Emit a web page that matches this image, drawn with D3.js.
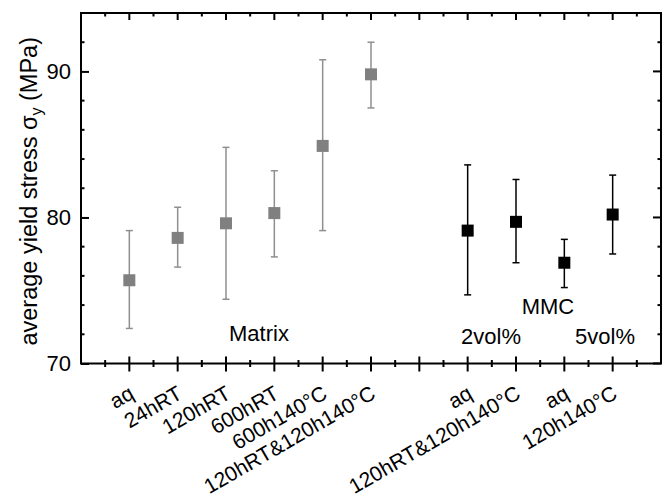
<!DOCTYPE html>
<html>
<head>
<meta charset="utf-8">
<script src="https://cdn.jsdelivr.net/npm/d3@7"></script>
<style>
  body { margin: 0; background: #fff; }
  text { font-family: "Liberation Sans", Arial, Helvetica, sans-serif; fill: #000; }
</style>
</head>
<body>
<div id="chart"></div>
<script>
// matrix samples (grey)
const matrixLabels = ["aq", "24hRT", "120hRT", "600hRT", "600h140°C", "120hRT&120h140°C"];
const matrixPos = [1, 2, 3, 4, 5, 6];
const matrixMean = [75.7, 78.6, 79.6, 80.3, 84.9, 89.8];
const matrixHi = [79.1, 80.7, 84.8, 83.2, 90.8, 92.0];
const matrixLo = [72.4, 76.6, 74.4, 77.3, 79.1, 87.5];

// MMC samples (black)
const mmcLabels = ["aq", "120hRT&120h140°C", "aq", "120h140°C"];
const mmcPos = [8, 9, 10, 11];
const mmcMean = [79.1, 79.7, 76.9, 80.2];
const mmcHi = [83.6, 82.6, 78.5, 82.9];
const mmcLo = [74.7, 76.9, 75.2, 77.5];

const yTicks = [70, 80, 90];

const width = 666, height = 501;
const fs = 22;

const svg = d3.select("#chart").append("svg")
  .attr("width", width)
  .attr("height", height);

const x = d3.scaleLinear().domain([0, 12]).range([81, 661]);
const y = d3.scaleLinear().domain([70, 94]).range([363.5, 13]);

const majorX = d3.range(1, 12);
const minorX = d3.range(0.5, 12, 1);
const minorY = d3.range(72, 94, 2).filter(v => v % 10 !== 0);

// frame
svg.append("rect")
  .attr("x", x(0)).attr("y", y(94))
  .attr("width", x(12) - x(0)).attr("height", y(70) - y(94))
  .attr("fill", "none").attr("stroke", "#000").attr("stroke-width", 2);

// bottom axis, ticks cross the line
const bottomAx = svg.append("g").attr("transform", `translate(0,${y(70)})`);
bottomAx.selectAll("line.maj").data(majorX).enter().append("line")
  .attr("x1", d => x(d)).attr("x2", d => x(d))
  .attr("y1", -7).attr("y2", 8)
  .attr("stroke", "#000").attr("stroke-width", 2);
bottomAx.selectAll("line.min").data(minorX).enter().append("line")
  .attr("x1", d => x(d)).attr("x2", d => x(d))
  .attr("y1", -3.5).attr("y2", 3.5)
  .attr("stroke", "#000").attr("stroke-width", 2);

// top axis, ticks inward
const topAx = svg.append("g").attr("transform", `translate(0,${y(94)})`);
topAx.selectAll("line.maj").data(majorX).enter().append("line")
  .attr("x1", d => x(d)).attr("x2", d => x(d))
  .attr("y1", 0).attr("y2", 7)
  .attr("stroke", "#000").attr("stroke-width", 2);
topAx.selectAll("line.min").data(minorX).enter().append("line")
  .attr("x1", d => x(d)).attr("x2", d => x(d))
  .attr("y1", 0).attr("y2", 3.5)
  .attr("stroke", "#000").attr("stroke-width", 2);

// left axis
const leftAx = svg.append("g").attr("transform", `translate(${x(0)},0)`)
  .call(d3.axisLeft(y).tickValues(yTicks).tickSize(-8).tickPadding(10));
leftAx.select(".domain").remove();
leftAx.selectAll(".tick line").attr("stroke-width", 2);
leftAx.selectAll(".tick text").attr("font-size", fs)
  .style("font-family", "'Liberation Sans', Arial, sans-serif");
leftAx.selectAll("line.min").data(minorY).enter().append("line")
  .attr("x1", 0).attr("x2", 3.5)
  .attr("y1", d => y(d)).attr("y2", d => y(d))
  .attr("stroke", "#000").attr("stroke-width", 2);

// right axis
const rightAx = svg.append("g").attr("transform", `translate(${x(12)},0)`);
rightAx.selectAll("line.maj").data(yTicks).enter().append("line")
  .attr("x1", -8).attr("x2", 0)
  .attr("y1", d => y(d)).attr("y2", d => y(d))
  .attr("stroke", "#000").attr("stroke-width", 2);
rightAx.selectAll("line.min").data(minorY).enter().append("line")
  .attr("x1", -3.5).attr("x2", 0)
  .attr("y1", d => y(d)).attr("y2", d => y(d))
  .attr("stroke", "#000").attr("stroke-width", 2);

// rotated category labels
const allLabels = matrixLabels.map((l, i) => ({ label: l, pos: matrixPos[i] }))
  .concat(mmcLabels.map((l, i) => ({ label: l, pos: mmcPos[i] })));
svg.selectAll("text.cat").data(allLabels).enter().append("text")
  .attr("class", "cat")
  .attr("text-anchor", "end")
  .attr("font-size", 21)
  .attr("transform", d => `translate(${x(d.pos) + 6},${y(70) + 34}) rotate(-30)`)
  .text(d => d.label);

// y title
const title = svg.append("text")
  .attr("text-anchor", "middle")
  .attr("font-size", 23.5)
  .attr("transform", `translate(37,${(y(70) + y(94)) / 2 + 3}) rotate(-90)`);
title.append("tspan").text("average yield stress σ");
title.append("tspan").attr("font-size", 16).attr("dy", 5).text("y");
title.append("tspan").attr("dy", -5).text(" (MPa)");

// error bars + squares
function drawSeries(pos, mean, hi, lo, colour, barColour) {
  const g = svg.append("g");
  const pts = pos.map((p, i) => ({ p: p, m: mean[i], h: hi[i], l: lo[i] }));
  g.selectAll("line.bar").data(pts).enter().append("line")
    .attr("x1", d => x(d.p)).attr("x2", d => x(d.p))
    .attr("y1", d => y(d.h)).attr("y2", d => y(d.l))
    .attr("stroke", barColour).attr("stroke-width", 1.5);
  g.selectAll("line.capH").data(pts).enter().append("line")
    .attr("x1", d => x(d.p) - 3.5).attr("x2", d => x(d.p) + 3.5)
    .attr("y1", d => y(d.h)).attr("y2", d => y(d.h))
    .attr("stroke", barColour).attr("stroke-width", 1.5);
  g.selectAll("line.capL").data(pts).enter().append("line")
    .attr("x1", d => x(d.p) - 3.5).attr("x2", d => x(d.p) + 3.5)
    .attr("y1", d => y(d.l)).attr("y2", d => y(d.l))
    .attr("stroke", barColour).attr("stroke-width", 1.5);
  g.selectAll("rect").data(pts).enter().append("rect")
    .attr("x", d => x(d.p) - 6).attr("y", d => y(d.m) - 6)
    .attr("width", 12).attr("height", 12)
    .attr("fill", colour);
}
drawSeries(matrixPos, matrixMean, matrixHi, matrixLo, "#808080", "#8f8f8f");
drawSeries(mmcPos, mmcMean, mmcHi, mmcLo, "#000", "#000");

// group annotations
const notes = [
  { t: "Matrix", px: 259, py: 341 },
  { t: "MMC", px: 548, py: 314 },
  { t: "2vol%", px: 491, py: 344 },
  { t: "5vol%", px: 605, py: 344 }
];
svg.selectAll("text.note").data(notes).enter().append("text")
  .attr("class", "note")
  .attr("text-anchor", "middle")
  .attr("font-size", fs)
  .attr("x", d => d.px).attr("y", d => d.py)
  .text(d => d.t);
</script>
</body>
</html>
